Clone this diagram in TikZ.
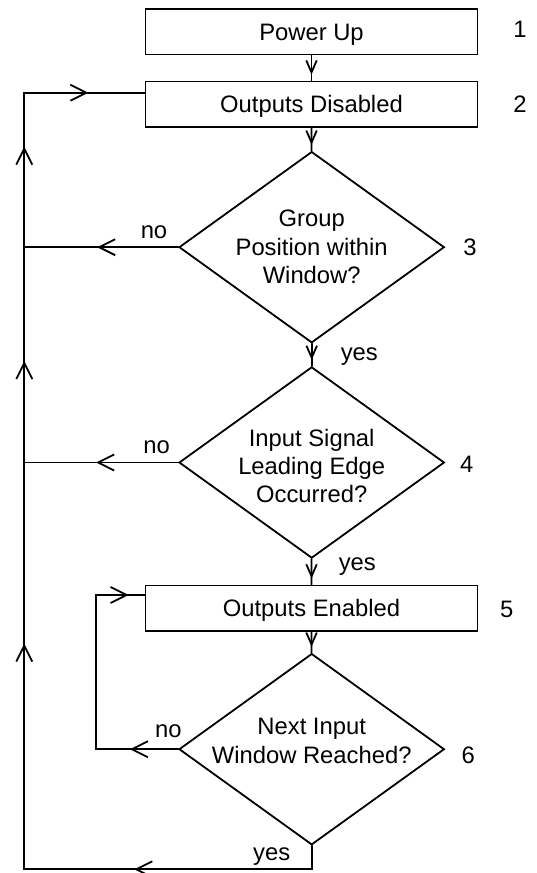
\documentclass[tikz,border=0pt]{standalone}
\usepackage{fontspec}
\setmainfont{Liberation Sans}
\usetikzlibrary{arrows.meta,shapes.geometric,decorations.markings}

\begin{document}
\begin{tikzpicture}[x=1pt,y=-1pt,line width=1.8pt,line cap=round,
    every node/.style={font=\fontsize{23.8}{28.3}\selectfont},
    stepbox/.style={draw,minimum width=332pt,minimum height=45.5pt,inner sep=0pt,text height=17pt,text depth=0pt},
    decision/.style={draw,diamond,minimum width=265.3pt,minimum height=191.2pt,inner sep=0pt},
    arr/.style={postaction={decorate,decoration={markings,mark=at position #1 with {\arrow{Straight Barb[length=16pt,width=16pt]}}}}},
    sarr/.style={postaction={decorate,decoration={markings,mark=at position -6pt with {\arrow{Straight Barb[length=12pt,width=10.5pt]}}}}}]
    \useasboundingbox (0,0) rectangle (536,873);
    % Steps
    \node[stepbox] (pwr) at (311.5,31.8) {Power Up};
    \node[stepbox] (dis) at (311.5,104.3) {Outputs Disabled};
    \node[stepbox] (en) at (311.5,608.2) {Outputs Enabled};
    % Decisions
    \node[decision] (d3) at (311.7,247.2) {};
    \node[align=center] (d3txt) at (311.7,247) {Group\\Position within\\Window?};
    \node[decision] (d4) at (311.7,462.5) {};
    \node[align=center] (d4txt) at (311.7,466) {Input Signal\\Leading Edge\\Occurred?};
    \node[decision] (d6) at (311.7,749.2) {};
    \node[align=center] (d6txt) at (311.7,741) {Next Input\\Window Reached?};
    % Step numbers
    \node (n1) at (520,29.2) {1};
    \node (n2) at (520,104.2) {2};
    \node (n3) at (470,247.5) {3};
    \node (n4) at (466.7,464) {4};
    \node (n5) at (506.7,609.3) {5};
    \node (n6) at (468.3,755) {6};
    % Branch labels
    \node (no3) at (154,232.7) {no};
    \node (no4) at (156.7,447.3) {no};
    \node (no6) at (168.3,731.7) {no};
    \node (yes3) at (359.3,356.7) {yes};
    \node (yes4) at (357.3,566.7) {yes};
    \node (yes6) at (271.7,856.7) {yes};
    % Main flow
    \draw[sarr] (pwr) -- (dis);
    \draw[sarr] (dis) -- (d3);
    \draw[sarr] (d3) -- (d4);
    \draw[sarr] (d4) -- (en);
    \draw[sarr] (en) -- (d6);
    % Return rail
    \coordinate (tl) at (24.3,92.7);
    \coordinate (bl) at (24.3,869.3);
    \coordinate (br) at (d6.south |- bl);
    \coordinate (lp) at (95.7,595);
    \draw[arr=201pt,arr=536.7pt,arr=819.3pt,arr=1033.7pt,arr=1151.7pt]
      (d6.south) -- (br) -- (bl) -- (tl) -- (dis.west |- tl);
    \draw[arr=81pt] (d3.west) -- (d3.west -| tl);
    \draw[arr=82pt] (d4.west) -- (d4.west -| tl);
    % Inner loop
    \draw[arr=48.3pt,arr=269.5pt] (d6.west) -- (d6.west -| lp) -- (lp) -- (en.west |- lp);
\end{tikzpicture}
\end{document}
